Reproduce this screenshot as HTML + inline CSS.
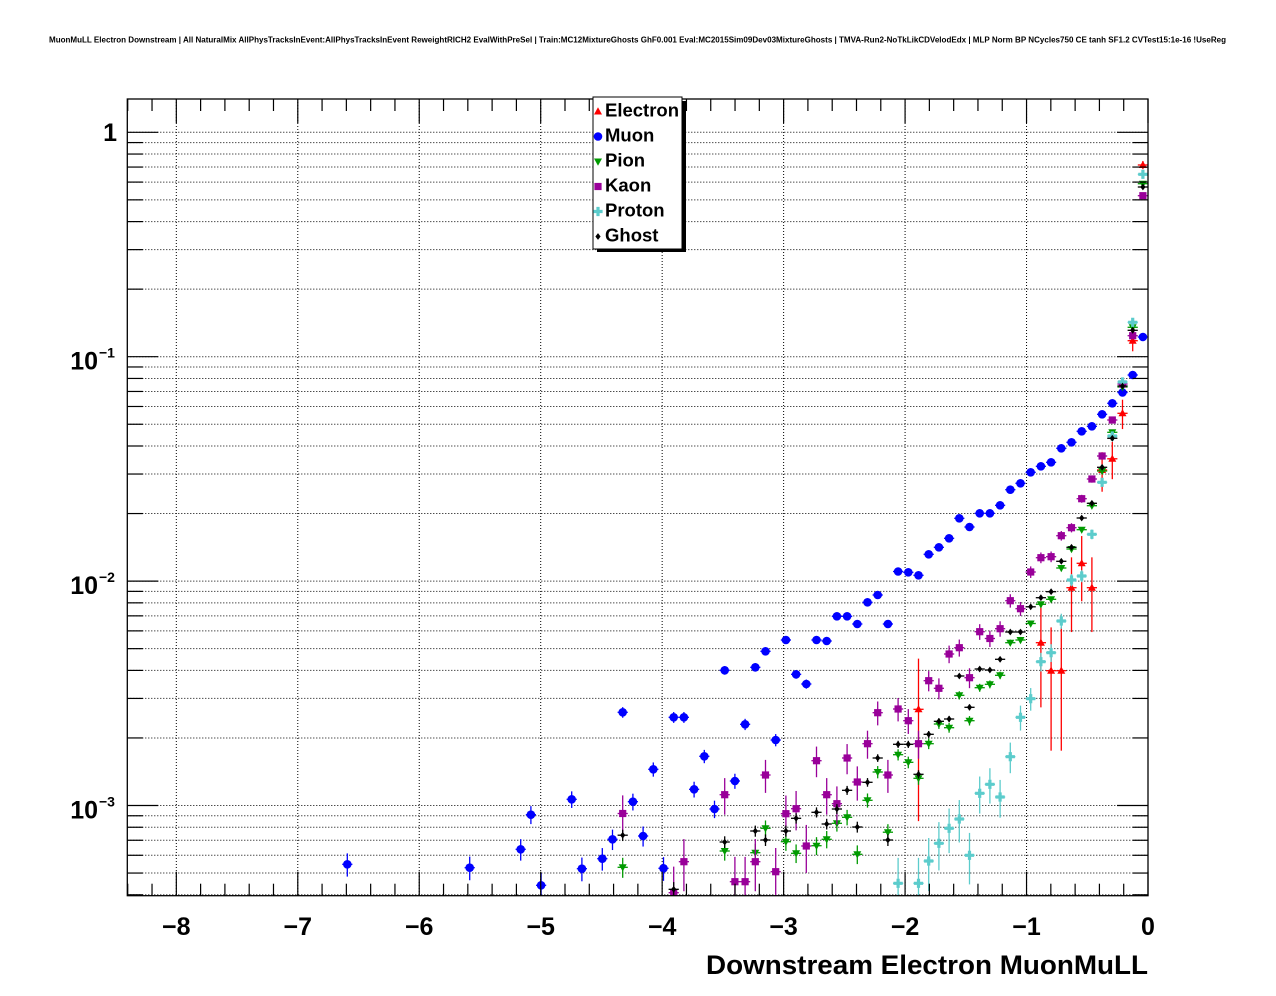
<!DOCTYPE html>
<html><head><meta charset="utf-8">
<style>html,body{margin:0;padding:0;background:#fff}svg{display:block}</style>
</head>
<body>
<svg id="s" width="1276" height="996" viewBox="0 0 1276 996" xmlns="http://www.w3.org/2000/svg" font-family="'Liberation Sans', Arial, Helvetica, sans-serif" font-weight="bold">
<defs><clipPath id="c"><rect x="127.3" y="99" width="1020.7" height="796.7"/></clipPath></defs>
<rect width="1276" height="996" fill="#fff"/>
<text x="49" y="42.5" font-size="8" textLength="1177" lengthAdjust="spacingAndGlyphs">MuonMuLL Electron Downstream | All NaturalMix AllPhysTracksInEvent:AllPhysTracksInEvent ReweightRICH2 EvalWithPreSel | Train:MC12MixtureGhosts GhF0.001 Eval:MC2015Sim09Dev03MixtureGhosts | TMVA-Run2-NoTkLikCDVelodEdx | MLP Norm BP NCycles750 CE tanh SF1.2 CVTest15:1e-16 !UseReg</text>
<g id="grid"></g>
<g id="data" clip-path="url(#c)"></g>
<g id="ticks"></g>
<rect x="127.3" y="99" width="1020.7" height="796.7" fill="none" stroke="#000" stroke-width="1.3"/>

<!-- Y labels -->
<text x="117" y="141" font-size="25" text-anchor="end">1</text>
<text x="98" y="369.7" font-size="25" text-anchor="end">10</text>
<text x="99" y="357.7" font-size="14">−1</text>
<text x="98" y="594.1" font-size="25" text-anchor="end">10</text>
<text x="99" y="582.1" font-size="14">−2</text>
<text x="98" y="818.5" font-size="25" text-anchor="end">10</text>
<text x="99" y="806.5" font-size="14">−3</text>

<!-- X labels -->
<text x="176.3" y="935" font-size="25" text-anchor="middle">−8</text>
<text x="297.8" y="935" font-size="25" text-anchor="middle">−7</text>
<text x="419.2" y="935" font-size="25" text-anchor="middle">−6</text>
<text x="540.7" y="935" font-size="25" text-anchor="middle">−5</text>
<text x="662.2" y="935" font-size="25" text-anchor="middle">−4</text>
<text x="783.6" y="935" font-size="25" text-anchor="middle">−3</text>
<text x="905.1" y="935" font-size="25" text-anchor="middle">−2</text>
<text x="1026.5" y="935" font-size="25" text-anchor="middle">−1</text>
<text x="1148" y="935" font-size="25" text-anchor="middle">0</text>

<text x="706" y="974" font-size="27" textLength="442" lengthAdjust="spacingAndGlyphs">Downstream Electron MuonMuLL</text>

<!-- Legend -->
<rect x="597" y="101" width="89" height="151" fill="#000"/>
<rect x="593" y="97" width="89" height="152" fill="#fff" stroke="#000" stroke-width="1"/>
<g id="leg"></g>
<text x="605" y="116.7" font-size="18.5">Electron</text>
<text x="605" y="141.7" font-size="18.5">Muon</text>
<text x="605" y="166.7" font-size="18.5">Pion</text>
<text x="605" y="191.7" font-size="18.5">Kaon</text>
<text x="605" y="216.7" font-size="18.5">Proton</text>
<text x="605" y="241.7" font-size="18.5">Ghost</text>
</svg>
<script>
(function(){
const NS='http://www.w3.org/2000/svg';
function add(p,tag,a){const e=document.createElementNS(NS,tag);for(const k in a)e.setAttribute(k,a[k]);p.appendChild(e);return e;}
const L=127.3,R=1148,T=99,B=895.7;
const Y=v=>132.3-224.4*Math.log10(v);
const V=y=>Math.pow(10,(132.3-y)/224.4);
const X=k=>1142.9-10.2*k;
const XV=u=>1148+121.46*u;
const g=document.getElementById('grid'),t=document.getElementById('ticks');
const dot={stroke:'#000','stroke-width':1,'stroke-dasharray':'1 2'};
for(let i=-8;i<=-1;i++){const x=XV(i);add(g,'line',Object.assign({x1:x,y1:T,x2:x,y2:B},dot));}
for(let n=0;n>=-4;n--){for(let m=1;m<=9;m++){const v=m*Math.pow(10,n);const y=Y(v);if(y<T-0.5||y>B+0.5)continue;
 add(g,'line',Object.assign({x1:L,y1:y,x2:R,y2:y},dot));
 const len=(m==1)?31:15.5;
 add(t,'line',{x1:L,y1:y,x2:L+len,y2:y,stroke:'#000','stroke-width':1.2});
 add(t,'line',{x1:R,y1:y,x2:R-len,y2:y,stroke:'#000','stroke-width':1.2});}}
for(let j=-42;j<=0;j++){const x=XV(j*0.2);if(x<L-0.5)continue;const maj=(Math.abs(j)%5==0);const len=maj?24:12;
 add(t,'line',{x1:x,y1:B,x2:x,y2:B-len,stroke:'#000','stroke-width':1.2});
 add(t,'line',{x1:x,y1:T,x2:x,y2:T+len,stroke:'#000','stroke-width':1.2});}

function marker(p,type,x,y,c){
 if(type=='circle')add(p,'circle',{cx:x,cy:y,r:4.3,fill:c});
 else if(type=='tup')add(p,'polygon',{points:`${x},${y-4.2} ${x-4},${y+3} ${x+4},${y+3}`,fill:c});
 else if(type=='tdown')add(p,'polygon',{points:`${x-4},${y-3} ${x+4},${y-3} ${x},${y+4.2}`,fill:c});
 else if(type=='square')add(p,'rect',{x:x-3.6,y:y-3.6,width:7.2,height:7.2,fill:c});
 else if(type=='cross'){const a=4.6,b=1.6;add(p,'path',{d:`M${x-b},${y-a}H${x+b}V${y-b}H${x+a}V${y+b}H${x+b}V${y+a}H${x-b}V${y+b}H${x-a}V${y-b}H${x-b}Z`,fill:c});}
 else if(type=='diamond')add(p,'polygon',{points:`${x},${y-3.4} ${x+2.6},${y} ${x},${y+3.4} ${x-2.6},${y}`,fill:c});
}
const series=[
 {c:'#ff0000',m:'tup',f:800,p:[[0,165],[1,340.7],[2,413.3],[3,458.8],[4,470],[5,587.7],[6,563.3],[7,587.7],[8,670.7],[9,670.7],[10,642.7],[22,709.3]]},
 {c:'#0000ff',m:'circle',f:130000,p:[[0,337],[1,375],[2,392.5],[3,403.3],[4,414.3],[5,426.3],[6,431.3],[7,442.3],[8,448.3],[9,462.3],[10,466.3],[11,472.3],[12,483.3],[13,489.7],[14,505.3],[15,513.3],[16,513.3],[17,527],[18,518.3],[19,538.3],[20,547.3],[21,554.3],[22,575.3],[23,572.3],[24,571.5],[25,624],[26,595],[27,602.3],[28,624],[29,616.3],[30,616.3],[31,641],[32,640],[33,684],[34,674.3],[35,640],[36,740],[37,651.3],[38,667.3],[39,724.3],[40,781],[41,670.3],[42,809],[43,756.3],[44,789.3],[45,717.3],[46,717.3],[47,868.3],[48,769.3],[49,836],[50,801.7],[51,712.3],[52,839.3],[53,858.7],[55,868.7],[56,799.3],[59,885.3],[60,814.7],[61,849.3],[66,867.7],[78,864.3]]},
 {c:'#009a00',m:'tdown',f:180000,p:[[0,183.7],[1,327.3],[2,387],[3,432.3],[4,471],[5,505.7],[6,529.7],[7,549],[8,568],[9,599.3],[10,604.3],[11,623.5],[12,640],[13,642.7],[14,675.3],[15,684.3],[16,687.7],[17,720.7],[18,695.3],[19,727.7],[20,724],[21,743.7],[22,778.3],[23,762.3],[24,754.7],[25,832.2],[26,772],[27,800.3],[28,854.3],[29,817.3],[30,823.3],[31,839.3],[32,845.7],[34,853.3],[35,841.7],[37,828.3],[38,852.7],[41,851],[51,867.3]]},
 {c:'#990099',m:'square',f:26000,p:[[0,195.7],[1,335.7],[2,384],[3,420],[4,456],[5,479],[6,498.7],[7,527.7],[8,535.7],[9,556.7],[10,557.7],[11,572],[12,608.7],[13,600.7],[14,628.7],[15,638.5],[16,631.7],[17,677.7],[18,647.7],[19,654],[20,688.3],[21,680.7],[22,743.7],[23,720.7],[24,709],[25,775],[26,712.7],[27,743.7],[28,782],[29,758],[30,803.7],[31,794.7],[32,760.7],[33,846],[34,808.7],[35,813.7],[36,871.7],[37,775],[38,861.7],[39,881.7],[40,881.7],[41,794.7],[45,861.7],[46,892.7],[51,813.5]]},
 {c:'#5ccccc',m:'cross',f:25000,p:[[0,174.3],[1,322.3],[2,382],[3,436],[4,482.3],[5,534.3],[6,576],[7,580],[8,621],[9,652.7],[10,661.7],[11,698.7],[12,717.3],[13,756.7],[14,797],[15,784.3],[16,793.3],[17,855.3],[18,819],[19,828.3],[20,843.3],[21,861],[22,883.3],[24,883.3]]},
 {c:'#000000',m:'diamond',f:400000,p:[[0,187],[1,330.3],[2,386],[3,438.3],[4,467.3],[5,503.3],[6,518],[7,547.3],[8,561.3],[9,591.7],[10,597.7],[11,606.8],[12,632],[13,632],[14,659.3],[15,670],[16,669],[17,707.3],[18,676],[19,719],[20,721.3],[21,734.3],[22,774.3],[23,744.3],[24,744.3],[25,840],[26,758],[27,782.3],[28,827],[29,790.3],[30,809],[31,824],[32,812.3],[34,818.3],[35,831],[37,840],[38,831],[41,842],[46,889.3],[51,835.2]]}
];
const d=document.getElementById('data');
series.forEach(s=>{
 s.p.forEach(([k,y])=>{
  const x=X(k);const v=V(y);const N=s.f*v;const sg=v/Math.sqrt(Math.max(N,1));
  const yu=Y(v+sg);const yd=(v-sg)>1e-6?Y(v-sg):2000;
  add(d,'line',{x1:x-5.1,y1:y,x2:x+5.1,y2:y,stroke:s.c,'stroke-width':1.3});
  add(d,'line',{x1:x,y1:yu,x2:x,y2:Math.min(yd,2000),stroke:s.c,'stroke-width':1.3});
  marker(d,s.m,x,y,s.c);
 });
});
const lg=document.getElementById('leg');
series.forEach((s,i)=>{marker(lg,s.m,598,111.5+25*i,s.c);});
})();
</script>
</body></html>
